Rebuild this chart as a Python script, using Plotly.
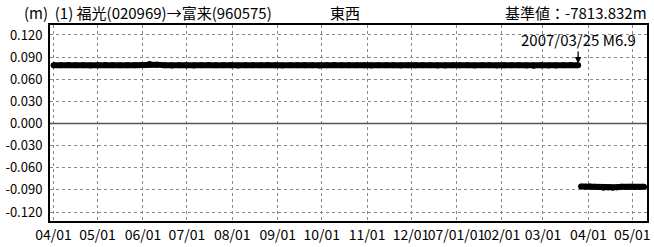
import plotly.graph_objects as go
import pandas as pd

# ---- data ----
top_vals = [0.0790, 0.0788, 0.0792, 0.0789, 0.0791, 0.0787, 0.0790, 0.0793, 0.0789, 0.0791,
            0.0788, 0.0790, 0.0792, 0.0808, 0.0798, 0.0790, 0.0787, 0.0791, 0.0789, 0.0786,
            0.0790, 0.0792, 0.0788, 0.0790, 0.0789, 0.0787, 0.0791, 0.0790, 0.0788, 0.0792,
            0.0789, 0.0786, 0.0790, 0.0791, 0.0788, 0.0790, 0.0787, 0.0789, 0.0792, 0.0788,
            0.0790, 0.0789, 0.0791, 0.0787, 0.0789, 0.0790, 0.0788, 0.0786, 0.0789, 0.0791,
            0.0788, 0.0790, 0.0787, 0.0785, 0.0789, 0.0788, 0.0790, 0.0786, 0.0789, 0.0791,
            0.0787, 0.0789, 0.0788, 0.0790, 0.0786, 0.0784, 0.0788, 0.0785, 0.0787, 0.0789,
            0.0792, 0.0790]
top_start, top_end = "2006-04-01", "2007-03-25"

bot_vals = [-0.0855, -0.0858, -0.0852, -0.0856, -0.0860, -0.0872, -0.0866, -0.0870,
            -0.0862, -0.0858, -0.0860, -0.0857, -0.0861, -0.0859, -0.0858]
bot_start, bot_end = "2007-03-27", "2007-05-09"

x_tick_dates = ["2006-04-01", "2006-05-01", "2006-06-01", "2006-07-01", "2006-08-01",
                "2006-09-01", "2006-10-01", "2006-11-01", "2006-12-01", "2007-01-01",
                "2007-02-01", "2007-03-01", "2007-04-01", "2007-05-01"]
x_tick_text = ["04/01", "05/01", "06/01", "07/01", "08/01", "09/01", "10/01", "11/01",
               "12/01", "07/01/01", "02/01", "03/01", "04/01", "05/01"]
y_tick_vals = [0.12, 0.09, 0.06, 0.03, 0.0, -0.03, -0.06, -0.09, -0.12]
y_tick_text = ["0.120", "0.090", "0.060", "0.030", "0.000", "-0.030", "-0.060", "-0.090", "-0.120"]

title_left = "(m)  (1) 福光(020969)→富来(960575)"
title_comp = "東西"
title_right = "基準値：-7813.832m"
event_date = "2007-03-25"
event_text = "2007/03/25 M6.9"

FONT = "Noto Sans CJK JP"

top_dates = pd.date_range(top_start, top_end, periods=len(top_vals))
bot_dates = pd.date_range(bot_start, bot_end, periods=len(bot_vals))

fig = go.Figure()
for d, v in [(top_dates, top_vals), (bot_dates, bot_vals)]:
    fig.add_trace(go.Scatter(x=d, y=v, mode="lines+markers",
                             line=dict(color="black", width=6),
                             marker=dict(color="black", size=6),
                             showlegend=False, hoverinfo="skip"))

fig.add_hline(y=0, line=dict(color="#555555", width=1.5))

fig.add_annotation(x=event_date, y=0.0812, xref="x", yref="y", ax=0, ay=-24,
                   text=event_text, showarrow=True, arrowhead=2, arrowsize=1,
                   arrowwidth=1.3, arrowcolor="black",
                   font=dict(family=FONT, size=15, color="black"))

fig.add_annotation(x=-0.0466, y=1.066, xref="paper", yref="paper", text=title_left,
                   showarrow=False, xanchor="left", yanchor="middle",
                   font=dict(family=FONT, size=15, color="black"))
fig.add_annotation(x=0.466, y=1.066, xref="paper", yref="paper", text=title_comp,
                   showarrow=False, xanchor="left", yanchor="middle",
                   font=dict(family=FONT, size=15, color="black"))
fig.add_annotation(x=1.004, y=1.066, xref="paper", yref="paper", text=title_right,
                   showarrow=False, xanchor="right", yanchor="middle",
                   font=dict(family=FONT, size=15, color="black"))

fig.update_layout(
    width=654, height=247,
    margin=dict(l=50, r=3, t=25, b=25),
    paper_bgcolor="white", plot_bgcolor="white",
    font=dict(family=FONT, size=12, color="black"),
    xaxis=dict(range=["2006-03-29 14:00", "2007-05-11"], tickvals=x_tick_dates,
               ticktext=x_tick_text, tickangle=0, showgrid=True, gridcolor="#888888",
               griddash="dot", gridwidth=1, showline=True, linecolor="black",
               linewidth=2, mirror=True, ticks="", zeroline=False,
               tickfont=dict(family=FONT, size=14, color="black")),
    yaxis=dict(range=[-0.1321, 0.1335], tickvals=y_tick_vals, ticktext=y_tick_text,
               showgrid=True, gridcolor="#888888", griddash="dot", gridwidth=1,
               showline=True, linecolor="black", linewidth=2, mirror=True,
               ticks="", zeroline=False, ticklabelstandoff=3,
               tickfont=dict(family=FONT, size=13, color="black")),
)

fig.write_html("out.html", config={"displayModeBar": False},
               post_script="document.body.style.margin='0';document.body.style.padding='0';")
